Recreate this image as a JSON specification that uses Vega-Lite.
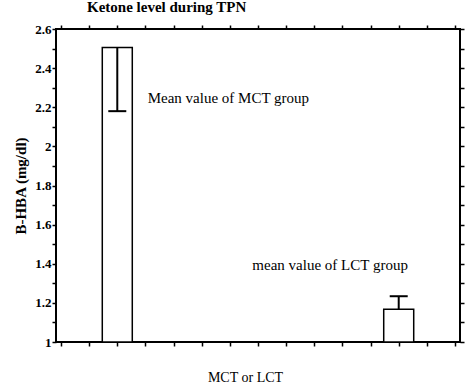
{
  "$schema": "https://vega.github.io/schema/vega-lite/v6.json",
  "width": 404,
  "height": 313,
  "autosize": "none",
  "padding": {"left": 56, "top": 29, "right": 9, "bottom": 46},
  "background": "white",
  "config": {
    "view": {"stroke": "black", "strokeWidth": 2},
    "font": "'Liberation Serif', 'Times New Roman', serif",
    "axis": {"domain": false, "grid": false, "tickColor": "black", "tickWidth": 1.5, "tickSize": 4, "labelColor": "black", "titleColor": "black", "labelFont": "'Liberation Serif', 'Times New Roman', serif", "titleFont": "'Liberation Serif', 'Times New Roman', serif"}
  },
  "title": {"text": "Ketone level during TPN", "anchor": "start", "frame": "group", "dx": 31, "offset": 8, "font": "'Liberation Serif', 'Times New Roman', serif", "fontSize": 15, "fontWeight": "bold", "color": "black"},
  "datasets": {
    "groups": [
      {"group": "MCT", "pos": 1, "mean": 2.505, "err": 2.18},
      {"group": "LCT", "pos": 6, "mean": 1.168, "err": 1.234}
    ],
    "notes": [
      {"label": "Mean value of MCT group", "x": 1.54, "y": 2.246},
      {"label": "mean value of LCT group", "x": 3.40, "y": 1.395}
    ]
  },
  "resolve": {"axis": {"x": "independent", "y": "independent"}},
  "layer": [
    {
      "data": {"name": "groups"},
      "mark": {"type": "bar", "size": 30, "fill": "white", "stroke": "black", "strokeWidth": 1.5},
      "encoding": {
        "x": {"field": "pos", "type": "quantitative", "scale": {"domain": [0, 7], "nice": false, "zero": false},
          "axis": {"orient": "bottom", "values": [0,0.5,1,1.5,2,2.5,3,3.5,4,4.5,5,5.5,6,6.5,7], "labels": false, "title": "MCT or LCT", "titleFontSize": 14, "titleFontWeight": "normal", "titlePadding": 24, "titleX": 189}},
        "y": {"field": "mean", "type": "quantitative", "scale": {"domain": [1, 2.6], "nice": false, "zero": false},
          "axis": {"orient": "left", "values": [1,1.1,1.2,1.3,1.4,1.5,1.6,1.7,1.8,1.9,2,2.1,2.2,2.3,2.4,2.5,2.6], "labelExpr": "round(datum.value*10) % 2 == 0 ? format(datum.value, '~g') : ''", "labelFontSize": 13, "labelFontWeight": "bold", "labelPadding": 1, "title": "B-HBA  (mg/dl)", "titleFontSize": 15, "titleFontWeight": "bold", "titlePadding": 6}},
        "y2": {"datum": 1}
      }
    },
    {
      "data": {"name": "groups"},
      "mark": {"type": "rule", "color": "black", "strokeWidth": 2},
      "encoding": {
        "x": {"field": "pos", "type": "quantitative", "axis": null},
        "y": {"field": "mean", "type": "quantitative", "axis": null},
        "y2": {"field": "err"}
      }
    },
    {
      "data": {"name": "groups"},
      "mark": {"type": "tick", "orient": "horizontal", "size": 18, "thickness": 2, "color": "black", "opacity": 1},
      "encoding": {
        "x": {"field": "pos", "type": "quantitative", "axis": null},
        "y": {"field": "err", "type": "quantitative", "axis": null}
      }
    },
    {
      "data": {"name": "notes"},
      "mark": {"type": "text", "align": "left", "baseline": "middle", "fontSize": 15, "font": "'Liberation Serif', 'Times New Roman', serif", "color": "black"},
      "encoding": {
        "x": {"field": "x", "type": "quantitative", "axis": null},
        "y": {"field": "y", "type": "quantitative", "axis": null},
        "text": {"field": "label"}
      }
    },
    {
      "data": {"name": "groups"},
      "mark": {"type": "point", "opacity": 0},
      "encoding": {
        "x": {"field": "pos", "type": "quantitative",
          "axis": {"orient": "top", "values": [0,0.5,1,1.5,2,2.5,3,3.5,4,4.5,5,5.5,6,6.5,7], "labels": false, "title": null}},
        "y": {"field": "mean", "type": "quantitative",
          "axis": {"orient": "right", "values": [1,1.1,1.2,1.3,1.4,1.5,1.6,1.7,1.8,1.9,2,2.1,2.2,2.3,2.4,2.5,2.6], "labels": false, "title": null}}
      }
    }
  ]
}
